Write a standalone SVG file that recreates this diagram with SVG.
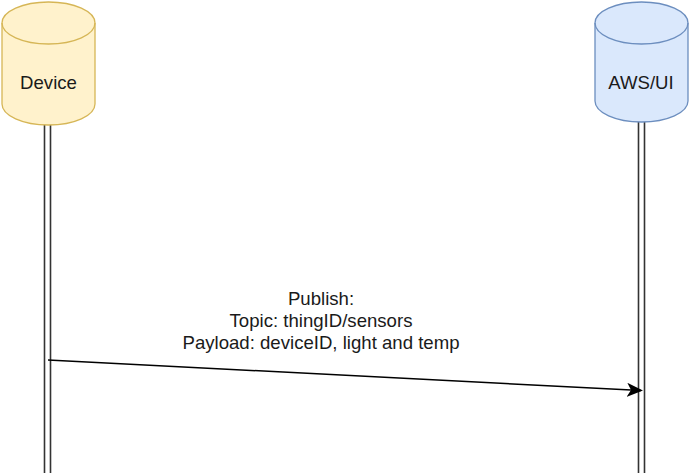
<svg xmlns="http://www.w3.org/2000/svg" width="689" height="473" viewBox="0 0 689 473">
<style>
.lbl{font-family:"Liberation Sans",Arial,sans-serif;font-size:18.6px;fill:#1a1a1a;text-anchor:middle}
.life{stroke:#333;stroke-width:1.6;fill:none}
</style>
<defs>
<marker id="ah" markerWidth="16" markerHeight="14" refX="14" refY="7" orient="auto" markerUnits="userSpaceOnUse">
<path d="M0,0 L16,7 L0,14 L4,7 Z" fill="#000"/>
</marker>
</defs>
<rect width="689" height="473" fill="#fff"/>
<g id="connectors">
<g id="device-lifeline"><line class="life" x1="44.5" y1="124" x2="44.5" y2="473"/><line class="life" x1="50.5" y1="124" x2="50.5" y2="473"/></g>
<g id="aws-lifeline"><line class="life" x1="638.5" y1="122" x2="638.5" y2="473"/><line class="life" x1="644.5" y1="122" x2="644.5" y2="473"/></g>
<g id="publish"><line x1="48" y1="360" x2="641" y2="390.5" stroke="#000" stroke-width="1.5" marker-end="url(#ah)"/>
<text class="lbl" x="321" y="305">Publish:</text>
<text class="lbl" x="321" y="327">Topic: thingID/sensors</text>
<text class="lbl" x="321" y="349">Payload: deviceID, light and temp</text></g>
</g>
<g id="device">
<path d="M2,23 A46.5,21 0 0 1 95,23 L95,104 A46.5,21 0 0 1 2,104 Z" fill="#fff2cc" stroke="#d6b656" stroke-width="1.3"/>
<path d="M2,23 A46.5,21 0 0 0 95,23" fill="none" stroke="#d6b656" stroke-width="1.3"/>
<text class="lbl" x="48.5" y="88.5">Device</text>
</g>
<g id="aws">
<path d="M595,23 A46.5,21 0 0 1 688,23 L688,101 A46.5,21 0 0 1 595,101 Z" fill="#dae8fc" stroke="#6c8ebf" stroke-width="1.3"/>
<path d="M595,23 A46.5,21 0 0 0 688,23" fill="none" stroke="#6c8ebf" stroke-width="1.3"/>
<text class="lbl" x="641" y="88.5">AWS/UI</text>
</g>
</svg>
